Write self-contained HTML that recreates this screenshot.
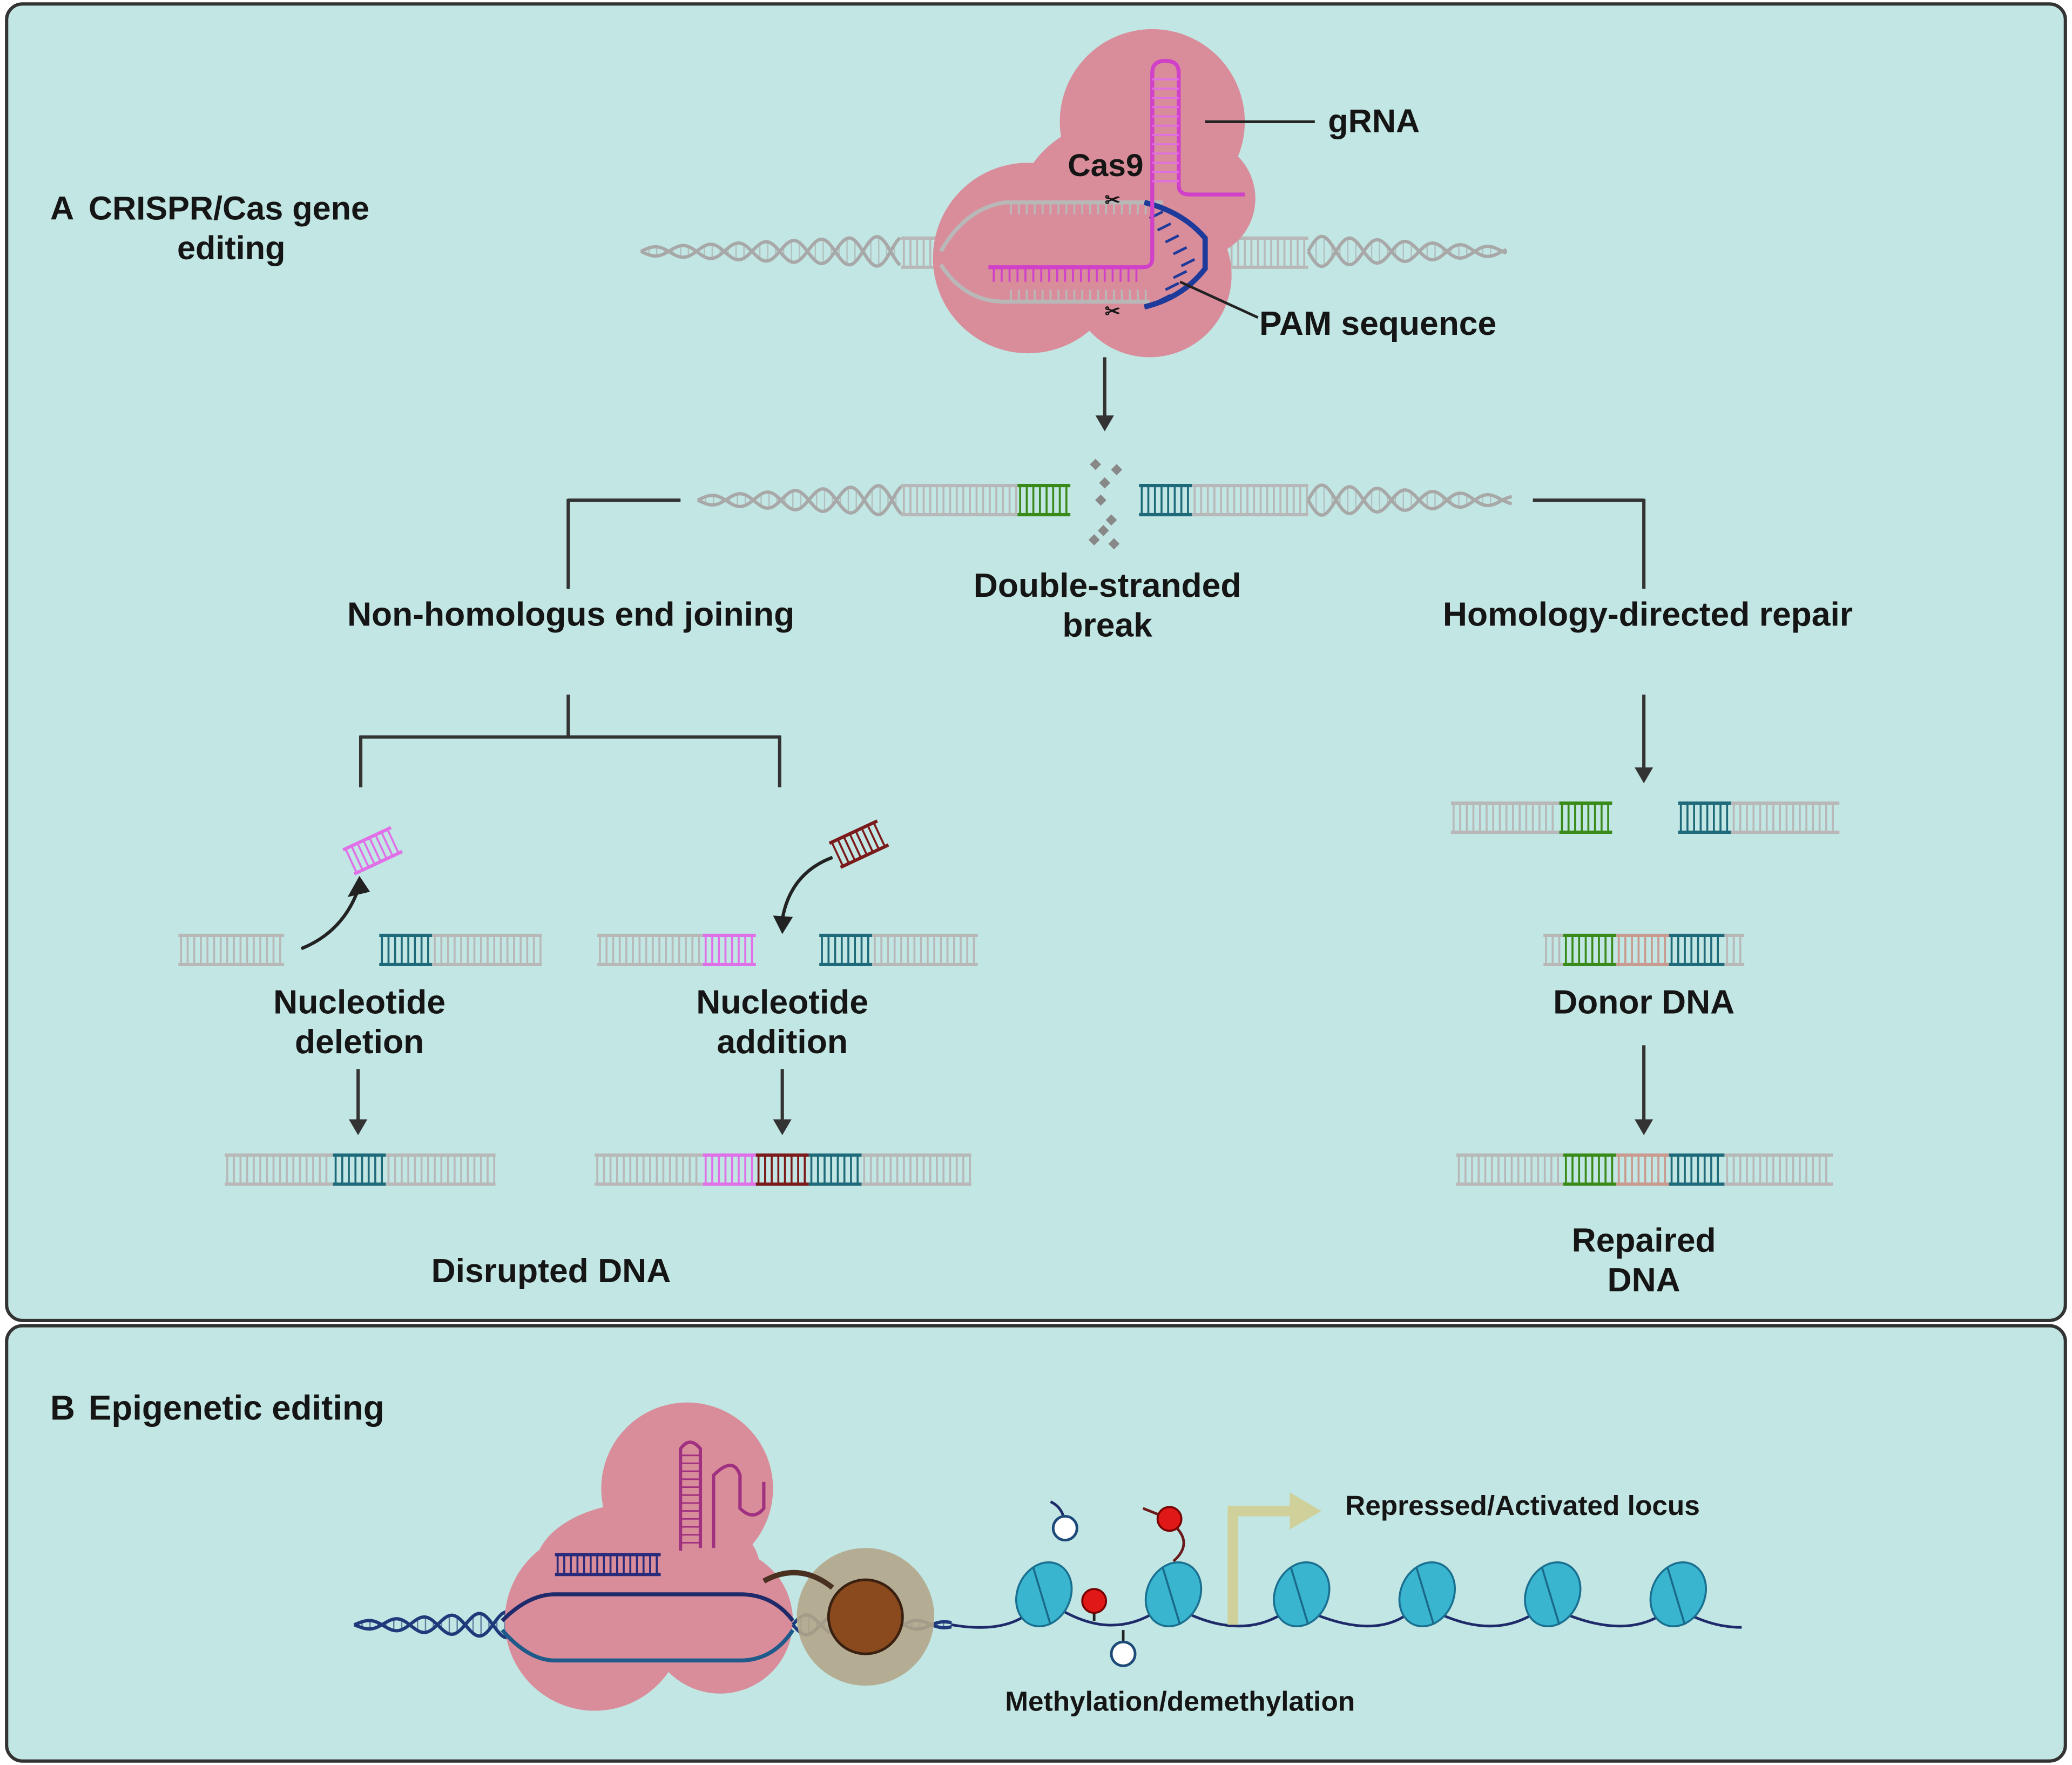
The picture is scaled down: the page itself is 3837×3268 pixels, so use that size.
<!DOCTYPE html>
<html><head><meta charset="utf-8"><style>
html,body{margin:0;padding:0;background:#fff}
svg{display:block}
text{font-family:"Liberation Sans",sans-serif;font-weight:bold;fill:#151515}
</style></head><body>
<svg id="s" width="3837" height="3268" viewBox="0 0 1568 1334" preserveAspectRatio="none" xmlns="http://www.w3.org/2000/svg">
<rect x="0" y="0" width="1568" height="1334" fill="#fff"/>
<rect x="5" y="3" width="1558" height="995" rx="12" fill="#c2e6e3" stroke="#333" stroke-width="2.5"/>
<rect x="5" y="1002" width="1558" height="329" rx="12" fill="#c2e6e3" stroke="#333" stroke-width="2.5"/>
<g id="g"></g>
<!-- Cas9 blob -->
<g fill="#d98d9b">
<circle cx="872" cy="92" r="70"/><circle cx="778" cy="195" r="72"/><circle cx="870" cy="208" r="62"/><ellipse cx="850" cy="160" rx="80" ry="70"/><circle cx="905" cy="150" r="45"/>
</g>
<g id="g2"></g>
<text x="38" y="166" font-size="25">A</text>
<text x="67" y="166" font-size="25">CRISPR/Cas gene</text>
<text x="175" y="196" font-size="25" text-anchor="middle">editing</text>
<text x="808" y="133" font-size="24">Cas9</text>
<text x="1005" y="100" font-size="25">gRNA</text>
<text x="953" y="253" font-size="25.5">PAM sequence</text>
<text x="432" y="473" font-size="25.5" text-anchor="middle">Non-homologus end joining</text>
<text x="838" y="451" font-size="25.5" text-anchor="middle">Double-stranded</text>
<text x="838" y="481" font-size="25.5" text-anchor="middle">break</text>
<text x="1247" y="473" font-size="25.5" text-anchor="middle">Homology-directed repair</text>
<text x="272" y="766" font-size="25.5" text-anchor="middle">Nucleotide</text>
<text x="272" y="796" font-size="25.5" text-anchor="middle">deletion</text>
<text x="592" y="766" font-size="25.5" text-anchor="middle">Nucleotide</text>
<text x="592" y="796" font-size="25.5" text-anchor="middle">addition</text>
<text x="417" y="969" font-size="25.5" text-anchor="middle">Disrupted DNA</text>
<text x="1244" y="766" font-size="25.5" text-anchor="middle">Donor DNA</text>
<text x="1244" y="946" font-size="25.5" text-anchor="middle">Repaired</text>
<text x="1244" y="976" font-size="25.5" text-anchor="middle">DNA</text>
<text x="38" y="1073" font-size="26">B</text>
<text x="67" y="1073" font-size="26">Epigenetic editing</text>
<text x="1018" y="1145" font-size="21">Repressed/Activated locus</text>
<text x="893" y="1293" font-size="21" text-anchor="middle">Methylation/demethylation</text>
</svg>
<script>
var NS="http://www.w3.org/2000/svg",G=document.getElementById('g'),G2=document.getElementById('g2');
function el(t,a,p){var e=document.createElementNS(NS,t);for(var k in a)e.setAttribute(k,a[k]);(p||G).appendChild(e);return e;}
function lad(x,y,w,h,c,p){el('line',{x1:x,y1:y,x2:x+w,y2:y,stroke:c,'stroke-width':2.5},p);el('line',{x1:x,y1:y+h,x2:x+w,y2:y+h,stroke:c,'stroke-width':2.5},p);
 for(var i=x+2;i<x+w;i+=5)el('line',{x1:i,y1:y,x2:i,y2:y+h,stroke:c,'stroke-width':1.5},p);}
function helix(x1,x2,y,a,c,p,rev){var d1='',d2='',L=x2-x1;for(var x=x1;x<=x2;x+=2){var t=(x-x1)/42*Math.PI*2,f=rev?(x2-x)/L:(x-x1)/L,amp=a*(0.25+0.75*f);
 d1+=(x==x1?'M':'L')+x+','+(y+amp*Math.sin(t));d2+=(x==x1?'M':'L')+x+','+(y-amp*Math.sin(t));
 if((x-x1)%6==0)el('line',{x1:x,y1:y+amp*Math.sin(t),x2:x,y2:y-amp*Math.sin(t),stroke:c,'stroke-width':1,opacity:0.6},p);}
 el('path',{d:d1,fill:'none',stroke:c,'stroke-width':2.5},p);el('path',{d:d2,fill:'none',stroke:c,'stroke-width':2.5},p);}
function arrow(x,y1,y2){el('line',{x1:x,y1:y1,x2:x,y2:y2-10,stroke:'#333','stroke-width':2.5});el('polygon',{points:(x-7)+','+(y2-12)+' '+(x+7)+','+(y2-12)+' '+x+','+y2,fill:'#333'});}
function ln(a,b,c,d){el('line',{x1:a,y1:b,x2:c,y2:d,stroke:'#333','stroke-width':2.5});}
var GR='#b8b8b8',GN='#3a8a1a',TL='#1f6a7a',MG='#e070e8',MR='#7a1a1a',SL='#c99a90';
helix(485,682,190,12,'#a8a8a8');lad(682,180,30,22,GR);helix(990,1140,190,12,'#a8a8a8',null,1);lad(915,180,75,22,GR);
helix(528,682,378,12,'#a8a8a8');lad(682,367,88,22,GR);lad(770,367,40,22,GN);lad(862,367,40,22,TL);lad(902,367,88,22,GR);helix(990,1145,378,12,'#a8a8a8',null,1);
[[826,348],[842,352],[833,362],[830,375],[838,390],[825,405],[840,408],[832,398]].forEach(function(p){el('rect',{x:p[0],y:p[1],width:6,height:6,fill:'#888',transform:'rotate(45 '+(p[0]+3)+' '+(p[1]+3)+')'});});
arrow(836,270,326);
ln(430,378,515,378);ln(430,377,430,445);ln(1160,378,1244,378);ln(1244,377,1244,445);
ln(430,525,430,557);ln(272,557,591,557);ln(273,556,273,595);ln(590,556,590,595);
lad(135,707,80,22,GR);lad(287,707,40,22,TL);lad(327,707,83,22,GR);
lad(452,707,80,22,GR);lad(532,707,40,22,MG);lad(620,707,40,22,TL);lad(660,707,80,22,GR);
var t1=el('g',{transform:'rotate(-25 282 643)'});lad(262,633,40,20,MG,t1);
var t2=el('g',{transform:'rotate(-25 650 638)'});lad(630,628,40,20,MR,t2);
el('path',{d:'M228,717 Q258,705 270,675',fill:'none',stroke:'#222','stroke-width':2.5});el('polygon',{points:'263,678 280,674 272,662',fill:'#222'});
el('path',{d:'M630,648 Q598,660 592,695',fill:'none',stroke:'#222','stroke-width':2.5});el('polygon',{points:'585,692 600,693 592,706',fill:'#222'});
arrow(271,808,858);arrow(592,808,858);
lad(170,873,82,22,GR);lad(252,873,40,22,TL);lad(292,873,83,22,GR);
lad(450,873,82,22,GR);lad(532,873,40,22,MG);lad(572,873,40,22,MR);lad(612,873,40,22,TL);lad(652,873,83,22,GR);
arrow(1244,525,592);
lad(1098,607,82,22,GR);lad(1180,607,40,22,GN);lad(1270,607,40,22,TL);lad(1310,607,82,22,GR);
lad(1168,707,15,22,GR);lad(1183,707,40,22,GN);lad(1223,707,40,22,SL);lad(1263,707,42,22,TL);lad(1305,707,15,22,GR);
arrow(1244,790,858);
lad(1102,873,81,22,GR);lad(1183,873,40,22,GN);lad(1223,873,40,22,SL);lad(1263,873,42,22,TL);lad(1305,873,82,22,GR);
el('path',{d:'M712,190 Q730,158 760,153 L880,153',fill:'none',stroke:GR,'stroke-width':3},G2);
el('path',{d:'M712,200 Q730,228 760,228 L870,228',fill:'none',stroke:GR,'stroke-width':3},G2);
for(var i=765;i<870;i+=6){el('line',{x1:i,y1:153,x2:i,y2:162,stroke:GR,'stroke-width':1.5},G2);el('line',{x1:i,y1:219,x2:i,y2:228,stroke:GR,'stroke-width':1.5},G2);}
el('path',{d:'M866,153 Q895,160 912,180 L912,203 Q895,225 866,232',fill:'none',stroke:'#1e3a9a','stroke-width':4},G2);
for(var k=0;k<8;k++){var yy=160+k*9;el('line',{x1:880+(k<4?k*6:24-(k-4)*6),y1:yy,x2:870+(k<4?k*6:24-(k-4)*6),y2:yy+5,stroke:'#1e3a9a','stroke-width':2},G2);}
el('path',{d:'M748,202 L865,202 Q872,202 872,195 L872,55 Q872,46 882,46 Q892,46 892,55 L892,140 Q892,147 900,147 L942,147',fill:'none',stroke:'#d040c8','stroke-width':3},G2);
for(var y=60;y<140;y+=7)el('line',{x1:872,y1:y,x2:892,y2:y,stroke:'#e070e0','stroke-width':1.5},G2);
for(var x=752;x<865;x+=6)el('line',{x1:x,y1:202,x2:x,y2:213,stroke:'#d040c8','stroke-width':1.5},G2);
el('line',{x1:912,y1:92,x2:995,y2:92,stroke:'#222','stroke-width':2},G2);
el('line',{x1:893,y1:213,x2:952,y2:240,stroke:'#222','stroke-width':2},G2);
el('text',{x:836,y:156,'font-size':14,fill:'#444'},G2).textContent='✂';
el('text',{x:836,y:240,'font-size':14,fill:'#444'},G2).textContent='✂';
helix(268,385,1228,10,'#1e3a7a');
[[520,1125,65],[450,1225,68],[545,1225,55]].forEach(function(c){el('circle',{cx:c[0],cy:c[1],r:c[2],fill:'#d98d9b'});});
el('ellipse',{cx:490,cy:1185,rx:85,ry:50,fill:'#d98d9b'});
el('path',{d:'M380,1225 Q400,1205 420,1205 L560,1205 Q585,1205 600,1225',fill:'none',stroke:'#1e2a6a','stroke-width':3});
el('path',{d:'M380,1232 Q400,1255 420,1255 L560,1255 Q585,1255 600,1232',fill:'none',stroke:'#1e5a8a','stroke-width':3});
lad(420,1175,80,15,'#2a2a7a');
el('path',{d:'M515,1172 L515,1095 Q522,1085 530,1095 L530,1170 M540,1170 L540,1115 Q555,1100 560,1115 L560,1140 Q570,1150 578,1140 L578,1120',fill:'none',stroke:'#a03080','stroke-width':2.5});
for(var y=1100;y<1168;y+=6)el('line',{x1:515,y1:y,x2:530,y2:y,stroke:'#a03080','stroke-width':1.2});
helix(600,720,1228,8,'#1e3a7a',null,1);
el('circle',{cx:655,cy:1222,r:52,fill:'#b3a68a',opacity:0.9});
el('path',{d:'M578,1195 Q605,1180 630,1200',fill:'none',stroke:'#4a3020','stroke-width':4});
el('circle',{cx:655,cy:1222,r:28,fill:'#8a4a1e',stroke:'#3a2010','stroke-width':2});
el('path',{d:'M720,1228 Q760,1235 780,1218 M800,1215 Q840,1240 875,1218 M900,1220 Q940,1238 970,1220 M995,1220 Q1040,1238 1065,1220 M1090,1220 Q1130,1238 1160,1220 M1185,1220 Q1230,1238 1258,1220 M1282,1222 Q1300,1230 1318,1230',fill:'none',stroke:'#1e2a6a','stroke-width':2});
[790,888,985,1080,1175,1270].forEach(function(x){el('ellipse',{cx:x,cy:1205,rx:20,ry:25,fill:'#3ab5d0',stroke:'#1a7090','stroke-width':1.5,transform:'rotate(25 '+x+' 1205)'});
 el('line',{x1:x-8,y1:1185,x2:x+5,y2:1228,stroke:'#1a6a8a','stroke-width':1.5});});
el('path',{d:'M795,1135 Q806,1140 806,1155',fill:'none',stroke:'#1e2a6a','stroke-width':2});el('circle',{cx:806,cy:1155,r:9,fill:'#fff',stroke:'#1e4a7a','stroke-width':2});
el('path',{d:'M865,1140 Q885,1148 885,1148 M888,1180 Q905,1165 885,1150',fill:'none',stroke:'#6a1a1a','stroke-width':2});el('circle',{cx:885,cy:1148,r:9,fill:'#e01818',stroke:'#700','stroke-width':1.5});
el('line',{x1:828,y1:1210,x2:828,y2:1225,stroke:'#222','stroke-width':2});el('circle',{cx:828,cy:1210,r:9,fill:'#e01818',stroke:'#700','stroke-width':1.5});
el('line',{x1:850,y1:1232,x2:850,y2:1250,stroke:'#222','stroke-width':2});el('circle',{cx:850,cy:1250,r:9,fill:'#fff',stroke:'#1e4a7a','stroke-width':2});
el('path',{d:'M933,1228 L933,1142 L980,1142',fill:'none',stroke:'#cfd09a','stroke-width':8});
el('polygon',{points:'976,1128 1000,1142 976,1156',fill:'#cfd09a'});
</script>
</body></html>
